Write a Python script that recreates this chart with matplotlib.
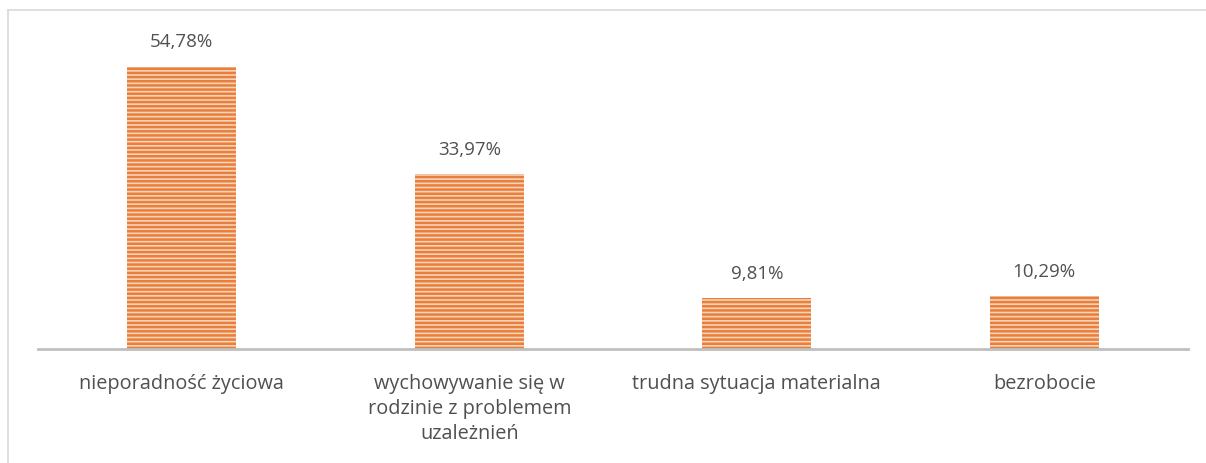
import matplotlib.pyplot as plt
from matplotlib.lines import Line2D

categories = ['nieporadność życiowa',
              'wychowywanie się w\nrodzinie z problemem\nuzależnień',
              'trudna sytuacja materialna',
              'bezrobocie']
values = [54.78, 33.97, 9.81, 10.29]
labels = ['54,78%', '33,97%', '9,81%', '10,29%']

plt.rcParams['font.family'] = ['Open Sans', 'DejaVu Sans']
plt.rcParams['hatch.linewidth'] = 1.8

W, H = 1206, 463
fig = plt.figure(figsize=(W / 100, H / 100), dpi=100)
ax = fig.add_axes([38 / W, 114 / H, 1150 / W, 330 / H])

x = range(len(categories))
ax.bar(x, values, width=0.38, color='#F8D3B8', edgecolor='#E97F3C',
       linewidth=0, hatch='----')
for i, v in enumerate(values):
    ax.text(i, v + 3.7, labels[i], ha='center', va='baseline',
            fontsize=13.5, color='#505050')

ax.set_xlim(-0.5, len(categories) - 0.5)
ax.set_ylim(0, 64)
ax.set_yticks([])
ax.set_xticks(list(x))
ax.set_xticklabels(categories, fontsize=14.3, color='#505050', linespacing=1.32)
ax.tick_params(axis='x', length=0, pad=18)
for s in ['top', 'right', 'left']:
    ax.spines[s].set_visible(False)
ax.spines['bottom'].set_color('#BFBFBF')
ax.spines['bottom'].set_linewidth(2)

# chart border (cut by image edge)
fig.add_artist(Line2D([8 / W, 8 / W], [0, 1 - 9.5 / H], transform=fig.transFigure,
                      color='#D9D9D9', linewidth=1.2))
fig.add_artist(Line2D([8 / W, 1], [1 - 9.5 / H, 1 - 9.5 / H], transform=fig.transFigure,
                      color='#D9D9D9', linewidth=1.2))

plt.savefig('out.png', dpi=100)
